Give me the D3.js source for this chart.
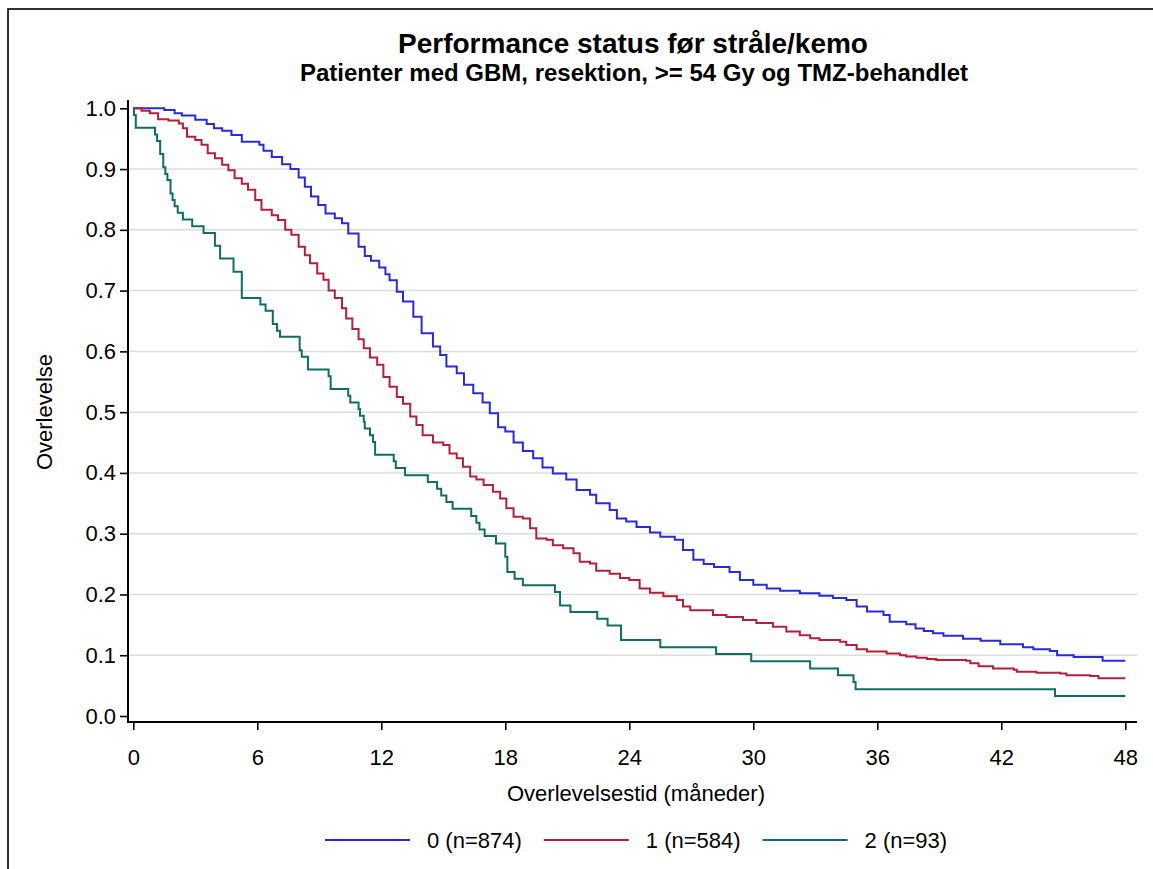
<!DOCTYPE html>
<html>
<head>
<meta charset="utf-8">
<script src="https://cdn.jsdelivr.net/npm/d3@7"></script>
<style>
  body { margin: 0; background: #fff; }
  text { font-family: "Liberation Sans", Arial, sans-serif; fill: #000; }
</style>
</head>
<body>
<div id="chart"></div>
<script>
// Kaplan-Meier estimates: [months, survival]
const ps0 = [[0,1.0],[1.5,0.997],[2.0,0.992],[2.35,0.988],[3.0,0.981],[3.55,0.974],[3.9,0.967],[4.3,0.963],
  [4.75,0.956],[5.25,0.945],[6.1,0.940],[6.3,0.930],[6.7,0.920],[7.2,0.908],[7.6,0.900],[8.0,0.886],
  [8.3,0.871],[8.6,0.855],[8.95,0.841],[9.3,0.827],[9.75,0.819],[10.1,0.811],[10.4,0.794],[10.9,0.772],
  [11.2,0.757],[11.5,0.749],[11.9,0.738],[12.2,0.727],[12.4,0.717],[12.75,0.698],[13.05,0.682],[13.55,0.657],
  [13.95,0.630],[14.5,0.608],[14.85,0.594],[15.15,0.575],[15.65,0.564],[16.0,0.545],[16.45,0.531],[16.9,0.516],
  [17.25,0.498],[17.65,0.475],[18.0,0.468],[18.4,0.450],[18.85,0.436],[19.35,0.424],[19.8,0.409],[20.3,0.399],
  [20.95,0.389],[21.45,0.372],[22.1,0.364],[22.4,0.350],[23.05,0.339],[23.4,0.325],[23.85,0.320],[24.35,0.311],
  [25.0,0.302],[25.5,0.295],[26.2,0.290],[26.6,0.273],[27.1,0.257],[27.6,0.250],[28.1,0.245],[28.85,0.237],
  [29.35,0.224],[30.0,0.216],[30.65,0.210],[31.3,0.206],[32.25,0.202],[33.2,0.198],[33.85,0.194],[34.5,0.191],
  [35.0,0.180],[35.5,0.172],[36.3,0.166],[36.6,0.155],[37.4,0.151],[37.85,0.144],[38.25,0.140],[38.7,0.136],
  [39.2,0.132],[40.15,0.127],[41.0,0.124],[41.95,0.118],[43.05,0.113],[43.55,0.110],[44.35,0.107],[44.7,0.100],
  [45.5,0.097],[46.9,0.091]];

const ps1 = [[0,1.0],[0.4,0.996],[0.8,0.992],[1.2,0.982],[1.7,0.980],[2.2,0.975],[2.4,0.967],[2.6,0.953],
  [3.0,0.948],[3.3,0.940],[3.6,0.926],[3.95,0.918],[4.3,0.907],[4.6,0.898],[4.9,0.885],[5.25,0.876],
  [5.55,0.866],[5.9,0.849],[6.2,0.833],[6.7,0.824],[7.0,0.816],[7.35,0.800],[7.65,0.792],[8.0,0.772],
  [8.3,0.758],[8.55,0.745],[8.9,0.728],[9.2,0.718],[9.45,0.700],[9.75,0.688],[10.1,0.671],[10.3,0.654],
  [10.6,0.637],[10.9,0.620],[11.15,0.605],[11.45,0.590],[11.8,0.578],[12.1,0.558],[12.4,0.542],[12.75,0.525],
  [13.05,0.514],[13.4,0.493],[13.7,0.479],[14.0,0.462],[14.5,0.450],[15.0,0.446],[15.3,0.432],[15.65,0.424],
  [15.95,0.410],[16.3,0.394],[16.6,0.389],[16.95,0.380],[17.4,0.369],[17.75,0.358],[18.05,0.342],[18.4,0.328],
  [18.85,0.325],[19.2,0.309],[19.5,0.292],[20.0,0.290],[20.3,0.281],[20.8,0.276],[21.3,0.268],[21.6,0.254],
  [22.1,0.251],[22.4,0.239],[23.05,0.234],[23.55,0.227],[24.0,0.224],[24.5,0.210],[25.0,0.203],[25.65,0.197],
  [26.3,0.191],[26.6,0.180],[26.95,0.174],[28.05,0.166],[28.7,0.163],[29.5,0.158],[30.15,0.153],[30.95,0.147],
  [31.6,0.139],[32.25,0.133],[32.75,0.128],[33.2,0.125],[34.2,0.122],[34.5,0.117],[35.0,0.110],[35.5,0.106],
  [36.45,0.103],[37.1,0.100],[37.4,0.098],[37.9,0.096],[38.4,0.094],[38.85,0.092],[40.3,0.091],[40.5,0.087],
  [40.9,0.082],[41.6,0.078],[42.6,0.076],[42.75,0.073],[43.7,0.071],[44.85,0.070],[45.15,0.067],[46.3,0.066],
  [46.7,0.062]];

const ps2 = [[0,1.0],[0.03,0.989],[0.12,0.968],[1.05,0.957],[1.15,0.946],[1.3,0.925],[1.45,0.903],[1.55,0.892],
  [1.65,0.882],[1.8,0.860],[1.9,0.849],[2.0,0.839],[2.15,0.828],[2.4,0.817],[2.85,0.806],[3.4,0.795],
  [3.95,0.774],[4.2,0.753],[4.85,0.731],[5.25,0.688],[6.15,0.677],[6.4,0.667],[6.75,0.645],[6.95,0.634],
  [7.1,0.624],[8.05,0.602],[8.15,0.591],[8.45,0.570],[9.45,0.559],[9.55,0.538],[10.4,0.527],[10.5,0.516],
  [10.9,0.505],[10.97,0.494],[11.15,0.484],[11.2,0.473],[11.45,0.462],[11.6,0.451],[11.7,0.430],[12.6,0.419],
  [12.7,0.408],[13.15,0.396],[14.25,0.385],[14.7,0.374],[14.9,0.363],[15.15,0.352],[15.45,0.341],[16.35,0.329],
  [16.6,0.318],[16.75,0.307],[17.0,0.296],[17.55,0.284],[18.0,0.262],[18.1,0.237],[18.45,0.226],[18.85,0.215],
  [20.4,0.204],[20.65,0.182],[21.15,0.171],[22.45,0.160],[22.95,0.149],[23.6,0.125],[25.5,0.113],[28.2,0.102],
  [29.9,0.090],[32.75,0.078],[34.1,0.067],[34.85,0.056],[34.95,0.044],[44.6,0.033]];

const groups = ["0 (n=874)", "1 (n=584)", "2 (n=93)"];
const colors = ["#2a2ad8", "#b41f3a", "#0f6e60"];
const series = [ps0, ps1, ps2];
const lastMonth = 48;

const xTicks = [0, 6, 12, 18, 24, 30, 36, 42, 48];
const yTicks = [0, 0.1, 0.2, 0.3, 0.4, 0.5, 0.6, 0.7, 0.8, 0.9, 1.0];

const W = 1153, H = 869;
const svg = d3.select("#chart").append("svg")
    .attr("width", W)
    .attr("height", H);

svg.append("rect").attr("width", W).attr("height", H).attr("fill", "#fff");

// outer frame (only top and left edges are inside the picture)
svg.append("rect")
    .attr("x", 8).attr("y", 9)
    .attr("width", W + 20).attr("height", H + 20)
    .attr("fill", "none")
    .attr("stroke", "#000")
    .attr("stroke-width", 1.6);

// plot region
const axisX = 128, axisTop = 100, axisBottom = 722, axisRight = 1137;

const x = d3.scaleLinear().domain([0, 48]).range([133.3, 1125.3]);
const y = d3.scaleLinear().domain([0, 1]).range([716, 108.3]);

// grid
svg.append("g")
    .selectAll("line")
    .data(yTicks.filter(d => d > 0 && d < 1))
    .enter().append("line")
    .attr("x1", axisX).attr("x2", axisRight)
    .attr("y1", d => y(d)).attr("y2", d => y(d))
    .attr("stroke", "#dcdcdc")
    .attr("stroke-width", 1.5);

// axes
const yAxis = svg.append("g")
    .attr("transform", `translate(${axisX},0)`)
    .call(d3.axisLeft(y).tickValues(yTicks).tickFormat(d3.format(".1f")).tickSize(8).tickPadding(4));

const xAxis = svg.append("g")
    .attr("transform", `translate(0,${axisBottom})`)
    .call(d3.axisBottom(x).tickValues(xTicks).tickSize(8).tickPadding(19));

[yAxis, xAxis].forEach(g => {
    g.select(".domain").remove();
    g.selectAll(".tick line").attr("stroke", "#000").attr("stroke-width", 1.6);
    g.selectAll(".tick text").attr("font-size", 22).attr("font-family", "Liberation Sans, Arial, sans-serif").attr("fill", "#000");
});

svg.append("line")
    .attr("x1", axisX).attr("x2", axisX)
    .attr("y1", axisTop).attr("y2", axisBottom)
    .attr("stroke", "#000").attr("stroke-width", 2);
svg.append("line")
    .attr("x1", axisX - 1).attr("x2", axisRight)
    .attr("y1", axisBottom).attr("y2", axisBottom)
    .attr("stroke", "#000").attr("stroke-width", 2);

// survival curves
const line = d3.line()
    .x(d => x(d[0]))
    .y(d => y(d[1]))
    .curve(d3.curveStepAfter);

series.forEach((s, i) => {
    const pts = s.concat([[lastMonth, s[s.length - 1][1]]]);
    svg.append("path")
        .datum(pts)
        .attr("fill", "none")
        .attr("stroke", colors[i])
        .attr("stroke-width", 2)
        .attr("d", line);
});

// titles
svg.append("text")
    .attr("x", 633).attr("y", 53)
    .attr("text-anchor", "middle")
    .attr("font-size", 28)
    .attr("font-weight", "bold")
    .text("Performance status før stråle/kemo");

svg.append("text")
    .attr("x", 634).attr("y", 81)
    .attr("text-anchor", "middle")
    .attr("font-size", 24)
    .attr("font-weight", "bold")
    .text("Patienter med GBM, resektion, >= 54 Gy og TMZ-behandlet");

svg.append("text")
    .attr("x", 636).attr("y", 801)
    .attr("text-anchor", "middle")
    .attr("font-size", 22)
    .text("Overlevelsestid (måneder)");

svg.append("text")
    .attr("transform", "translate(52,412) rotate(-90)")
    .attr("text-anchor", "middle")
    .attr("font-size", 22)
    .text("Overlevelse");

// legend
const legend = svg.append("g");
let lx = 325;
groups.forEach((g, i) => {
    legend.append("line")
        .attr("x1", lx).attr("x2", lx + 85)
        .attr("y1", 840).attr("y2", 840)
        .attr("stroke", colors[i]).attr("stroke-width", 2);
    const t = legend.append("text")
        .attr("x", lx + 102).attr("y", 848)
        .attr("font-size", 22)
        .text(g);
    lx = lx + 102 + t.node().getComputedTextLength() + 22;
});
</script>
</body>
</html>
